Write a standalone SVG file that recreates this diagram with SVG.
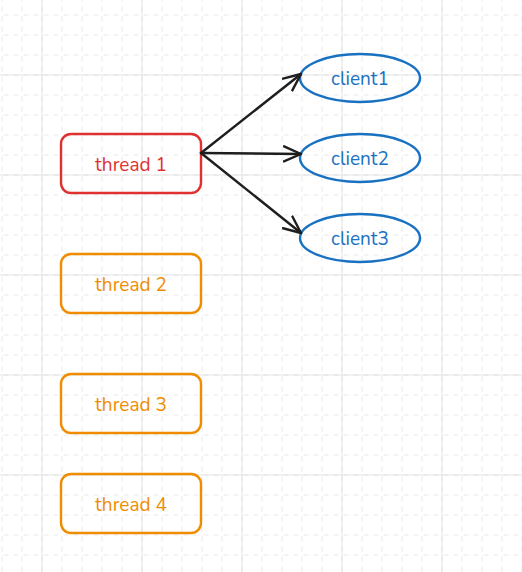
<svg xmlns="http://www.w3.org/2000/svg" width="522" height="572" viewBox="0 0 522 572">
<defs>
<pattern id="minor" x="1.5" y="14.5" width="20" height="20" patternUnits="userSpaceOnUse">
<path d="M0 0V20M0 0H20" fill="none" stroke="#d4d4d4" stroke-width="1" stroke-dasharray="5 5" stroke-dashoffset="-2"/>
</pattern>
<pattern id="major" x="41.5" y="74.5" width="100" height="100" patternUnits="userSpaceOnUse">
<path d="M0 0V100M0 0H100" fill="none" stroke="#cccccc" stroke-width="1"/>
</pattern>
<marker id="arrow" viewBox="0 0 20 20" refX="18" refY="10" markerWidth="20" markerHeight="20" markerUnits="userSpaceOnUse" orient="auto">
<path d="M1 2.5L18 10L1 17.5" fill="none" stroke="#1e1e1e" stroke-width="2.4" stroke-linecap="round" stroke-linejoin="round"/>
</marker>
</defs>
<style>
.thread-red rect{fill:none;stroke:#e03131;stroke-width:2.4}
.thread-orange rect{fill:none;stroke:#f08c00;stroke-width:2.4}
.client ellipse{fill:none;stroke:#1971c2;stroke-width:2.4}
text{font-family:"Nunito","Noto Sans","Open Sans",sans-serif;font-size:19px;text-anchor:middle;dominant-baseline:central}
.thread-red text{fill:#e03131}
.thread-orange text{fill:#f08c00}
.client text{fill:#1971c2}
.edge{fill:none;stroke:#1e1e1e;stroke-width:2.4;stroke-linecap:round;marker-end:url(#arrow)}
</style>
<rect width="522" height="572" fill="#ffffff"/>
<rect width="522" height="572" fill="url(#minor)"/>
<rect width="522" height="572" fill="url(#major)"/>
<g id="thread1" class="thread-red"><rect x="61" y="134" width="140" height="59" rx="10"/><text x="131" y="164.5">thread 1</text></g>
<g id="thread2" class="thread-orange"><rect x="61" y="254" width="140" height="59" rx="10"/><text x="131" y="284.5">thread 2</text></g>
<g id="thread3" class="thread-orange"><rect x="61" y="374" width="140" height="59" rx="10"/><text x="131" y="404.5">thread 3</text></g>
<g id="thread4" class="thread-orange"><rect x="61" y="474" width="140" height="59" rx="10"/><text x="131" y="504.5">thread 4</text></g>
<g id="client1" class="client"><ellipse cx="360" cy="78" rx="60" ry="24"/><text x="360" y="78.5">client1</text></g>
<g id="client2" class="client"><ellipse cx="360" cy="158" rx="60" ry="24"/><text x="360" y="158.5">client2</text></g>
<g id="client3" class="client"><ellipse cx="360" cy="238" rx="60" ry="24"/><text x="360" y="238.5">client3</text></g>
<g id="connectors">
<path class="edge" d="M201 153L301 74"/>
<path class="edge" d="M201 153L301 154"/>
<path class="edge" d="M201 153L301 233"/>
</g>
</svg>
